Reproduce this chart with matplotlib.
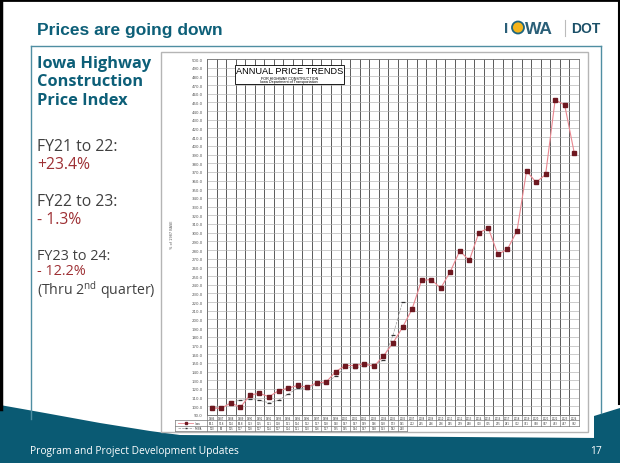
import numpy as np
import matplotlib.pyplot as plt
from matplotlib.patches import Rectangle, Polygon, Circle

W, H = 620, 464

# data
years = [str(y) for y in range(1986, 2025)]
iowa = [98.1, 97.6, 104.0, 98.8, 113, 115, 111, 118, 121, 124, 122, 127, 128,
        140, 147, 147, 149, 146, 158, 173, 191, 212, 245, 246, 236, 255, 279,
        268, 300, 305, 275, 281, 302, 371, 358, 367, 453, 447, 392]
fhwa = [100, 98, 105, 107, 108, 107, 104, 107, 114, 121, 120, 126, 127, 135,
        145, 144, 147, 148, 153, 182, 220]
series_names = ['Iowa', 'FHWA']
yticks = np.arange(90, 501, 10)

# side panel text
panel_head = ['Iowa Highway', 'Construction', 'Price Index']
changes = [('FY21 to 22:', '+23.4%'), ('FY22 to 23:', '- 1.3%'), ('FY23 to 24:', '- 12.2%')]

TEAL = '#0d5f78'
BAND = '#0a5a73'
RED = '#9e3034'
GREY = '#404040'

plt.rcParams['mathtext.fontset'] = 'custom'
plt.rcParams['mathtext.rm'] = 'Open Sans'


def px_rect(x0, y0, x1, y1):
    return [x0 / W, 1 - y1 / H, (x1 - x0) / W, (y1 - y0) / H]


fig = plt.figure(figsize=(W / 100, H / 100), dpi=100)
fig.patch.set_facecolor('white')

# slide background / decorations in pixel coordinates
bg = fig.add_axes([0, 0, 1, 1])
bg.set_xlim(0, W)
bg.set_ylim(H, 0)
bg.axis('off')

bg.add_patch(Polygon([(0, 406), (45, 414), (100, 424), (150, 432), (180, 436),
                      (600, 439), (600, 464), (0, 464)], closed=True, color=BAND, lw=0))
bg.add_patch(Polygon([(594, 417), (620, 409), (620, 464), (594, 464)], closed=True, color=BAND, lw=0))

bg.plot([31, 601], [47, 47], color='#4f8ea2', lw=1)
bg.plot([31, 31], [47, 420], color='#4f8ea2', lw=1)
bg.plot([601, 601], [47, 414], color='#4f8ea2', lw=1)
bg.plot([1, 1], [0, 410], color='black', lw=2.5)
bg.plot([0, W], [1, 1], color='black', lw=2)
bg.plot([619, 619], [0, 405], color='black', lw=1.5)

bg.text(37, 30, 'Prices are going down', fontsize=12.5, fontweight='bold',
        color=TEAL, family='Liberation Sans', va='center', ha='left')

# logo
bg.text(504, 29, 'I', fontsize=11, fontweight='bold', color='#2a5f78',
        family='Liberation Sans', va='center', ha='left')
bg.add_patch(Circle((518, 28.5), 6, facecolor='#f4b41a', edgecolor='#1f6680', lw=1.3))
bg.text(525, 29, 'WA', fontsize=12.5, fontweight='bold', color='#2a5f78',
        family='Liberation Sans', va='center', ha='left')
bg.plot([565, 565], [21, 37], color='#bbbbbb', lw=0.8)
bg.text(571, 29, 'DOT', fontsize=10, fontweight='bold', color='#1b5068',
        family='Liberation Sans', va='center', ha='left')

# left panel
for i, line in enumerate(panel_head):
    bg.text(37, 64 + i * 18.5, line, fontsize=11.8, fontweight='bold', color=TEAL,
            family='Open Sans', va='center', ha='left')
ys = [(147, 165, 11.3), (202, 220, 11.3), (257, 272, 10.4)]
for (lab, val), (y1, y2, fs) in zip(changes, ys):
    bg.text(37, y1, lab, fontsize=fs, color=GREY, family='Open Sans', va='center')
    bg.text(37, y2, val, fontsize=fs, color=RED, family='Open Sans', va='center')
bg.text(37, 290, r'(Thru 2$^{\mathrm{nd}}$ quarter)', fontsize=10.2, color=GREY,
        family='Open Sans', va='center')

# footer
bg.text(30, 452, 'Program and Project Development Updates', fontsize=7.4,
        color='white', family='Open Sans', va='center', ha='left')
bg.text(602, 452, '17', fontsize=7.4, color='white', family='Open Sans', va='center', ha='right')

# white frame holding the pasted chart
bg.add_patch(Rectangle((161, 53), 427, 380, facecolor='white', edgecolor='#b5b5b5', lw=1))
bg.text(172, 235, '% of 1987 BASE', fontsize=2.5, rotation=90, color='#555555',
        va='center', ha='center')

# chart
ax = fig.add_axes(px_rect(207, 60, 579, 416))
x = np.arange(len(years))
ax.plot(x[:len(fhwa)], fhwa, color='#9a9a9a', lw=0.5, ls='--', marker='_',
        ms=3.5, mec='#333333', mew=0.9, zorder=3)
ax.plot(x, iowa, color='#ea8790', lw=0.8, marker='s', ms=3.1,
        mfc='#6e1820', mec='#6e1820', zorder=4)
ax.set_xlim(-0.5, len(years) - 0.5)
ax.set_ylim(90, 500)
ax.set_xticks(np.arange(-0.5, len(years) + 0.5, 1))
ax.set_xticklabels([])
ax.set_yticks(yticks)
ax.set_yticklabels([f'{v:.1f}' for v in yticks], fontsize=2.8, color='#555555')
ax.tick_params(length=0, pad=3)
ax.grid(axis='x', color='#5a5a5a', lw=0.7)
ax.grid(axis='y', color='#b0b0b0', lw=0.45)
for s in ax.spines.values():
    s.set_color('#777777')
    s.set_linewidth(0.6)

# chart title box
ax.add_patch(Rectangle((0.079, 0.926), 0.292, 0.052, transform=ax.transAxes,
                       facecolor='#999999', lw=0, zorder=5))
ax.add_patch(Rectangle((0.075, 0.930), 0.292, 0.052, transform=ax.transAxes,
                       facecolor='white', edgecolor='black', lw=0.6, zorder=6))
ax.text(0.221, 0.967, 'ANNUAL PRICE TRENDS', transform=ax.transAxes, fontsize=6.6,
        family='Liberation Sans', ha='center', va='center', zorder=7)
ax.text(0.221, 0.947, 'FOR HIGHWAY CONSTRUCTION', transform=ax.transAxes, fontsize=2.7,
        family='Liberation Sans', ha='center', va='center', zorder=7)
ax.text(0.221, 0.937, 'Iowa Department of Transportation', transform=ax.transAxes, fontsize=2.7,
        family='Liberation Sans', ha='center', va='center', zorder=7)

# data table under the chart
tb = fig.add_axes(px_rect(207, 416, 579, 432))
tb.set_xlim(-0.5, len(years) - 0.5)
tb.set_ylim(0, 3)
tb.axis('off')
leg_x = -3.85
lc = '#777777'
tb.plot([-0.5, len(years) - 0.5], [3, 3], color=lc, lw=0.5, clip_on=False)
tb.plot([leg_x, len(years) - 0.5], [2, 2], color=lc, lw=0.5, clip_on=False)
tb.plot([leg_x, len(years) - 0.5], [1, 1], color=lc, lw=0.5, clip_on=False)
tb.plot([leg_x, len(fhwa) - 0.5], [0, 0], color=lc, lw=0.5, clip_on=False)
tb.plot([leg_x, leg_x], [0, 2], color=lc, lw=0.5, clip_on=False)
for i in range(len(years) + 1):
    bottom = 0 if i <= len(fhwa) else 1
    tb.plot([i - 0.5, i - 0.5], [bottom, 3], color=lc, lw=0.5, clip_on=False)
for i, yr in enumerate(years):
    tb.text(i, 2.5, yr, fontsize=1.8, ha='center', va='center', color='#333333')
    v = iowa[i]
    tb.text(i, 1.5, f'{v:.1f}' if v < 100 else f'{v:.0f}', fontsize=1.8,
            ha='center', va='center', color='#333333')
for i, v in enumerate(fhwa):
    tb.text(i, 0.5, f'{v:.0f}', fontsize=1.8, ha='center', va='center', color='#333333')
# legend cells
tb.plot([leg_x + 0.3, leg_x + 1.9], [1.5, 1.5], color='#ea8790', lw=0.6, clip_on=False)
tb.plot([leg_x + 1.1], [1.5], marker='s', ms=1.6, color='#6e1820', clip_on=False)
tb.plot([leg_x + 0.3, leg_x + 1.9], [0.5, 0.5], color='#9a9a9a', lw=0.5, ls='--', clip_on=False)
tb.plot([leg_x + 1.1], [0.5], marker='_', ms=2, mec='#333333', clip_on=False)
tb.text(leg_x + 2.1, 1.5, series_names[0], fontsize=1.8, va='center', color='#333333', clip_on=False)
tb.text(leg_x + 2.1, 0.5, series_names[1], fontsize=1.8, va='center', color='#333333', clip_on=False)

fig.savefig('out.png', dpi=100)
